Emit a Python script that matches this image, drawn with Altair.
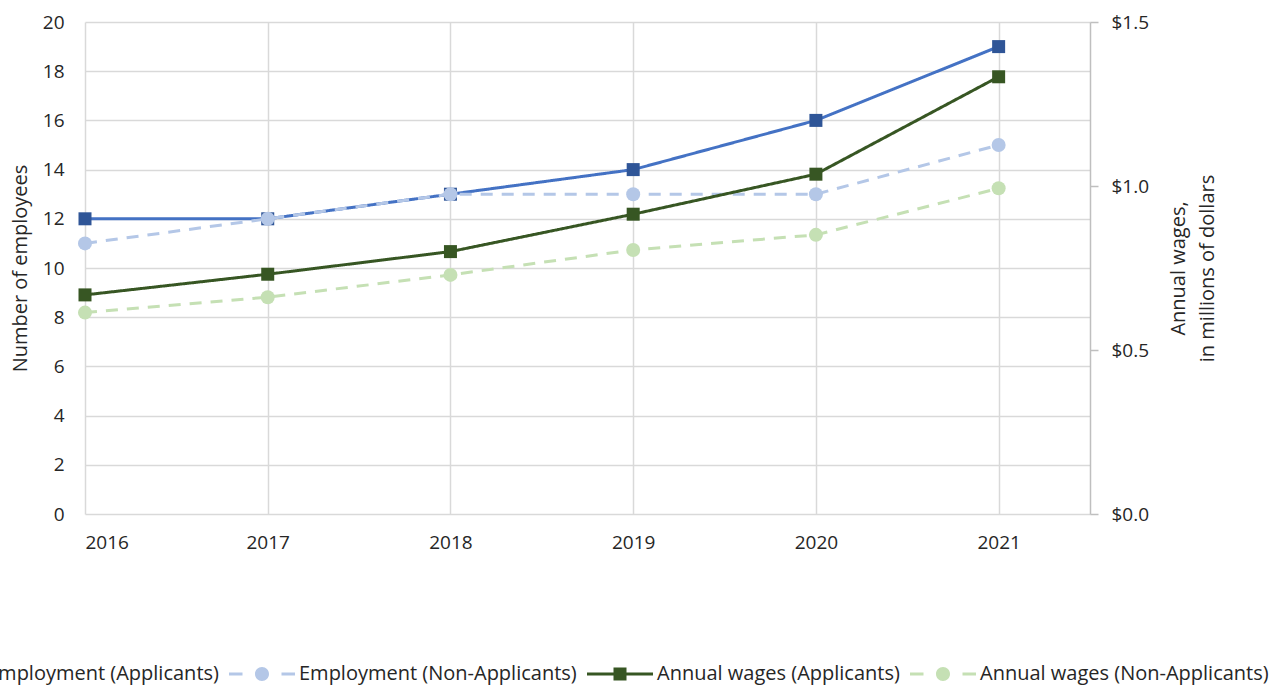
import altair as alt
import pandas as pd

# Yearly figures for the two groups of firms
years = [2016, 2017, 2018, 2019, 2020, 2021]
emp_applicants = [12, 12, 13, 14, 16, 19]
emp_non_applicants = [11, 12, 13, 13, 13, 15]
wages_applicants = [0.668, 0.731, 0.800, 0.914, 1.036, 1.333]          # $ millions
wages_non_applicants = [0.614, 0.661, 0.729, 0.805, 0.851, 0.993]      # $ millions

series = [
    "Employment (Applicants)",
    "Employment (Non-Applicants)",
    "Annual wages (Applicants)",
    "Annual wages (Non-Applicants)",
]
line_colors = ["#4472C4", "#B4C7E7", "#375623", "#C5E0B4"]
marker_colors = ["#2F5597", "#B4C7E7", "#375623", "#C5E0B4"]
dashes = [[1, 0], [12, 9], [1, 0], [12, 9]]

# Legend glyphs: a line with the series marker in the middle. One path unit is
# 10 px (symbolSize 400); the glyph runs from -1 to 5.6, i.e. 66 px wide.
solid_square = "M-1,-0.15H5.6V0.15H-1Z M1.65,-0.65H2.95V0.65H1.65Z"
dashed_circle = ("M-1,-0.15H0.35V0.15H-1Z M4.25,-0.15H5.6V0.15H4.25Z "
                 "M1.6,0A0.7,0.7 0 1,1 3.0,0A0.7,0.7 0 1,1 1.6,0Z")
legend_glyphs = [solid_square, dashed_circle, solid_square, dashed_circle]

FONT = "Open Sans"
TEXT = "#262626"
GRID = "#D9D9D9"
LABEL_SIZE = 19
TITLE_SIZE = 20


def long_table(values, name):
    return pd.DataFrame({"year": years, "value": values, "series": name})


emp = pd.concat([long_table(emp_applicants, series[0]),
                 long_table(emp_non_applicants, series[1])])
wages = pd.concat([long_table(wages_applicants, series[2]),
                   long_table(wages_non_applicants, series[3])])

legend = alt.Legend(
    title=None, orient="none", direction="horizontal",
    legendX=-168, legendY=642,
    labelFont=FONT, labelFontSize=TITLE_SIZE, labelColor=TEXT, labelLimit=500,
    symbolSize=400, labelOffset=50, columnPadding=10, symbolStrokeWidth=0,
)

x_enc = alt.X(
    "year:Q",
    scale=alt.Scale(domain=[2016, 2021.5], nice=False, zero=False),
    axis=alt.Axis(values=years, format="d", title=None, grid=True, gridColor=GRID,
                  gridWidth=1.5, domain=False, ticks=False, labelPadding=19,
                  labelFont=FONT, labelFontSize=LABEL_SIZE, labelColor=TEXT),
)
color_enc = alt.Color("series:N", scale=alt.Scale(domain=series, range=line_colors),
                      legend=legend)
dash_enc = alt.StrokeDash("series:N", scale=alt.Scale(domain=series, range=dashes),
                          legend=None)
fill_enc = alt.Fill("series:N", scale=alt.Scale(domain=series, range=marker_colors),
                    legend=None)


def series_layers(data, name, y_enc, square):
    base = alt.Chart(data).transform_filter(alt.datum.series == name)
    line = base.mark_line(strokeWidth=3).encode(x=x_enc, y=y_enc, color=color_enc,
                                                strokeDash=dash_enc)
    if square:
        pts = base.mark_square(size=169, opacity=1)
    else:
        pts = base.mark_circle(size=196, opacity=1)
    pts = pts.encode(x=x_enc, y=y_enc, fill=fill_enc)
    return [line, pts]


y_left = alt.Y(
    "value:Q", scale=alt.Scale(domain=[0, 20], nice=False),
    axis=alt.Axis(values=list(range(0, 21, 2)), title="Number of employees",
                  grid=True, gridColor=GRID, gridWidth=1.5, domain=False, ticks=False,
                  labelPadding=21, labelFont=FONT, labelFontSize=LABEL_SIZE,
                  labelColor=TEXT,
                  titleFont=FONT, titleFontSize=TITLE_SIZE, titleFontWeight="normal",
                  titleColor=TEXT, titleAngle=270, titleBaseline="middle",
                  titleX=-65, titleY=246),
)
y_right = alt.Y(
    "value:Q", scale=alt.Scale(domain=[0, 1.5], nice=False),
    axis=alt.Axis(orient="right", values=[0, 0.5, 1.0, 1.5], format="$.1f",
                  title=["Annual wages,", "in millions of dollars"],
                  grid=False, domain=True, domainColor="#BFBFBF", domainWidth=1.5,
                  ticks=True, tickColor="#BFBFBF", tickWidth=1.5, tickSize=8,
                  labelPadding=13, labelFont=FONT, labelFontSize=LABEL_SIZE,
                  labelColor=TEXT,
                  titleFont=FONT, titleFontSize=TITLE_SIZE, titleFontWeight="normal",
                  titleColor=TEXT, titleAngle=270, titleBaseline="middle",
                  titleLineHeight=29, titleX=88, titleY=246),
)

emp_layers = (series_layers(emp, series[0], y_left, True)
              + series_layers(emp, series[1], y_left, False))
wage_layers = (series_layers(wages, series[2], y_right, True)
               + series_layers(wages, series[3], y_right, False))

# Empty layer that only feeds the legend its line-and-marker glyphs
legend_layer = (
    alt.Chart(wages).transform_filter("false")
    .mark_point(filled=True, opacity=1)
    .encode(x=x_enc, y=y_right, color=color_enc,
            shape=alt.Shape("series:N",
                            scale=alt.Scale(domain=series, range=legend_glyphs),
                            legend=legend))
)

chart = (
    alt.layer(alt.layer(*emp_layers), alt.layer(*wage_layers, legend_layer))
    .resolve_scale(y="independent")
    .properties(
        width=1005, height=492,
        padding={"left": 85, "top": 22, "right": 187, "bottom": 172},
        autosize=alt.AutoSizeParams(type="none"),
        background="white",
    )
    .configure_view(stroke=None)
)

chart.save("out.html", embed_options={"renderer": "svg", "actions": False})
